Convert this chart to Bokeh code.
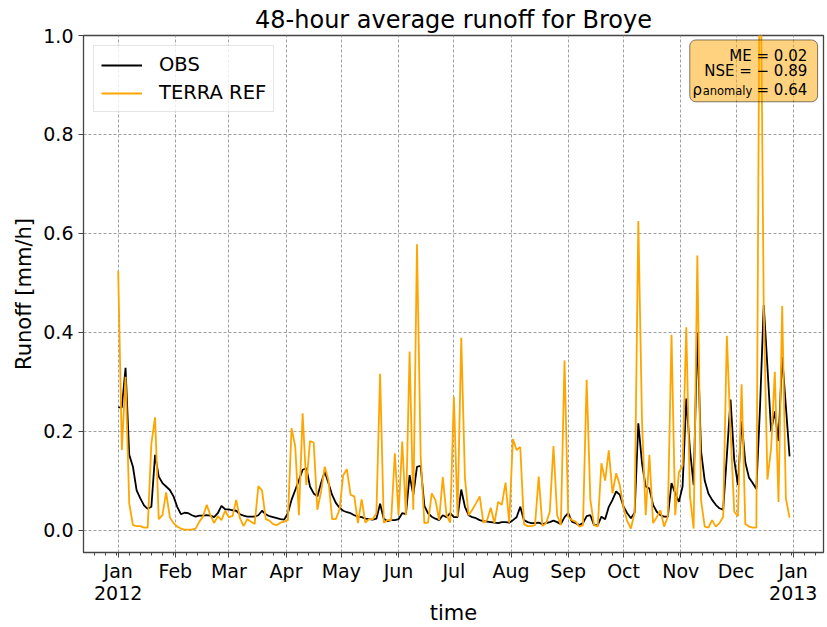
import pandas as pd
from bokeh.plotting import figure
from bokeh.models import (ColumnDataSource, FixedTicker, Range1d, Legend, LegendItem,
                          BoxAnnotation, Label, PrintfTickFormatter)
from bokeh.embed import file_html
from bokeh.resources import INLINE

# ---------------- data ----------------
start_date = "2012-01-01"
step_days = 2

obs = [0.248, 0.248, 0.328, 0.152, 0.128, 0.080, 0.064, 0.050, 0.043, 0.047,
       0.152, 0.108, 0.095, 0.088, 0.081, 0.068, 0.047, 0.032, 0.035, 0.034,
       0.030, 0.027, 0.029, 0.029, 0.030, 0.029, 0.026, 0.034, 0.049, 0.042,
       0.042, 0.040, 0.039, 0.032, 0.029, 0.027, 0.027, 0.027, 0.030, 0.039,
       0.032, 0.028, 0.026, 0.024, 0.022, 0.021, 0.034, 0.061, 0.081, 0.101,
       0.122, 0.125, 0.088, 0.074, 0.068, 0.095, 0.118, 0.095, 0.071, 0.055,
       0.045, 0.039, 0.036, 0.034, 0.030, 0.027, 0.026, 0.023, 0.022, 0.021,
       0.023, 0.053, 0.023, 0.018, 0.020, 0.020, 0.022, 0.034, 0.032, 0.111,
       0.071, 0.128, 0.130, 0.049, 0.034, 0.027, 0.023, 0.020, 0.030, 0.026,
       0.034, 0.026, 0.026, 0.082, 0.047, 0.030, 0.026, 0.024, 0.020, 0.018,
       0.017, 0.016, 0.015, 0.014, 0.016, 0.016, 0.015, 0.020, 0.026, 0.047,
       0.020, 0.016, 0.014, 0.014, 0.015, 0.012, 0.014, 0.016, 0.019, 0.016,
       0.012, 0.026, 0.034, 0.017, 0.014, 0.010, 0.014, 0.028, 0.030, 0.010,
       0.010, 0.027, 0.022, 0.047, 0.061, 0.078, 0.071, 0.047, 0.034, 0.024,
       0.035, 0.216, 0.135, 0.088, 0.084, 0.051, 0.037, 0.030, 0.027, 0.027,
       0.095, 0.074, 0.057, 0.088, 0.266, 0.162, 0.091, 0.400, 0.160, 0.100,
       0.074, 0.061, 0.051, 0.044, 0.041, 0.150, 0.264, 0.142, 0.091, 0.220,
       0.137, 0.106, 0.095, 0.083, 0.250, 0.455, 0.330, 0.200, 0.240, 0.180,
       0.350, 0.250, 0.149]

terra = [0.524, 0.162, 0.310, 0.054, 0.010, 0.008, 0.008, 0.005, 0.005, 0.175,
         0.228, 0.022, 0.030, 0.076, 0.026, 0.014, 0.007, 0.003, 0.001, 0.001,
         0.001, 0.003, 0.017, 0.027, 0.051, 0.030, 0.014, 0.028, 0.020, 0.039,
         0.026, 0.028, 0.061, 0.024, 0.008, 0.022, 0.017, 0.012, 0.089, 0.080,
         0.022, 0.019, 0.012, 0.010, 0.015, 0.017, 0.020, 0.206, 0.169, 0.030,
         0.236, 0.091, 0.180, 0.177, 0.041, 0.078, 0.128, 0.101, 0.022, 0.022,
         0.041, 0.111, 0.123, 0.071, 0.068, 0.014, 0.062, 0.015, 0.022, 0.022,
         0.034, 0.316, 0.015, 0.020, 0.020, 0.155, 0.030, 0.179, 0.030, 0.361,
         0.041, 0.578, 0.149, 0.014, 0.015, 0.074, 0.061, 0.020, 0.107, 0.030,
         0.015, 0.270, 0.027, 0.389, 0.105, 0.030, 0.041, 0.054, 0.068, 0.015,
         0.020, 0.045, 0.014, 0.057, 0.051, 0.096, 0.015, 0.184, 0.162, 0.168,
         0.012, 0.008, 0.008, 0.010, 0.108, 0.008, 0.014, 0.037, 0.170, 0.030,
         0.010, 0.343, 0.027, 0.020, 0.017, 0.007, 0.010, 0.304, 0.061, 0.010,
         0.007, 0.135, 0.100, 0.161, 0.074, 0.115, 0.090, 0.045, 0.018, 0.003,
         0.035, 0.625, 0.220, 0.030, 0.152, 0.014, 0.026, 0.040, 0.007, 0.027,
         0.395, 0.030, 0.117, 0.130, 0.410, 0.068, 0.003, 0.555, 0.060, 0.007,
         0.005, 0.020, 0.007, 0.014, 0.027, 0.393, 0.200, 0.037, 0.028, 0.295,
         0.012, 0.007, 0.005, 0.005, 1.300, 0.450, 0.102, 0.165, 0.320, 0.057,
         0.453, 0.064, 0.025]

month_starts = ["2012-01-01", "2012-02-01", "2012-03-01", "2012-04-01", "2012-05-01",
                "2012-06-01", "2012-07-01", "2012-08-01", "2012-09-01", "2012-10-01",
                "2012-11-01", "2012-12-01", "2013-01-01"]
month_labels = ["Jan\n2012", "Feb", "Mar", "Apr", "May", "Jun", "Jul", "Aug",
                "Sep", "Oct", "Nov", "Dec", "Jan\n2013"]
minor_monthdays = [1, 7, 13, 19, 25, 31]
y_ticks = [0.0, 0.2, 0.4, 0.6, 0.8, 1.0]

title_text = "48-hour average runoff for Broye"
x_label = "time"
y_label = "Runoff [mm/h]"
stat_me = "ME = 0.02"
stat_nse = "NSE = \u2212 0.89"
stat_rho_sym = "\u03c1"
stat_rho_sub = "anomaly"
stat_rho_val = "= 0.64"

# ---------------- derived ----------------
t0 = pd.Timestamp(start_date)
dates = pd.date_range(start_date, periods=len(obs), freq=f"{step_days}D")
days = ((dates - t0) / pd.Timedelta(days=1)).to_numpy()

major_days = [int((pd.Timestamp(m) - t0).days) for m in month_starts]
minor_days = []
for m in pd.date_range("2011-12-01", "2013-01-01", freq="MS"):
    for md in minor_monthdays:
        try:
            d = pd.Timestamp(year=m.year, month=m.month, day=md)
        except ValueError:
            continue
        minor_days.append(int((d - t0).days))

FONT = "DejaVu Sans"
X0, X1 = -18.8, 382.4
Y0, Y1 = -0.0454, 1.0

p = figure(width=827, height=627, output_backend="svg", toolbar_location=None,
           x_range=Range1d(X0, X1), y_range=Range1d(Y0, Y1),
           min_border_left=83, min_border_right=4, min_border_top=35,
           min_border_bottom=74)
p.background_fill_color = "white"
p.border_fill_color = "white"
p.outline_line_color = "#444444"
p.outline_line_width = 1.3

src = ColumnDataSource(dict(x=days, obs=obs, terra=terra))
r_obs = p.line("x", "obs", source=src, line_color="black", line_width=1.8)
r_terra = p.line("x", "terra", source=src, line_color="orange", line_width=1.8)

# title
p.title.text = title_text
p.title.align = "center"
p.title.text_font = FONT
p.title.text_font_size = "24px"
p.title.text_font_style = "normal"
p.title.text_color = "black"
p.title.standoff = 4

# axes
xa = p.xaxis[0]
xa.ticker = FixedTicker(ticks=major_days, minor_ticks=minor_days)
xa.major_label_overrides = {d: lab for d, lab in zip(major_days, month_labels)}
xa.axis_label = x_label
ya = p.yaxis[0]
ya.ticker = FixedTicker(ticks=y_ticks)
ya.formatter = PrintfTickFormatter(format="%.1f")
ya.axis_label = y_label
for ax in (xa, ya):
    ax.axis_line_color = "#444444"
    ax.major_tick_line_color = "#444444"
    ax.minor_tick_line_color = "#444444"
    ax.major_tick_in = 0
    ax.major_tick_out = 5
    ax.minor_tick_in = 0
    ax.minor_tick_out = 3
    ax.major_label_text_font = FONT
    ax.major_label_text_font_size = "19px"
    ax.major_label_text_color = "black"
    ax.axis_label_text_font = FONT
    ax.axis_label_text_font_size = "21px"
    ax.axis_label_text_font_style = "normal"
    ax.axis_label_text_color = "black"
ya.minor_tick_line_color = None
xa.major_label_standoff = 2
xa.major_label_text_line_height = 1.0
xa.axis_label_standoff = -6
ya.major_label_standoff = 5
ya.axis_label_standoff = 4

p.grid.grid_line_color = "#a0a0a0"
p.grid.grid_line_dash = "3 2"
p.grid.grid_line_width = 1

legend = Legend(items=[LegendItem(label="OBS", renderers=[r_obs]),
                       LegendItem(label="TERRA REF", renderers=[r_terra])],
                location="top_left", margin=10, padding=7, spacing=5,
                glyph_width=41, glyph_height=22, label_height=22,
                label_standoff=17, label_text_font=FONT,
                label_text_font_size="19.5px", label_text_color="black",
                border_line_color="#cccccc", border_line_width=1,
                background_fill_color="white", background_fill_alpha=0.8)
p.add_layout(legend)

# statistics box
box = BoxAnnotation(left=309.9, right=379.2, top=0.991, bottom=0.866,
                    fill_color="orange", fill_alpha=0.5,
                    line_color="black", line_alpha=0.5, line_width=1,
                    border_radius=6)
p.add_layout(box)

def stat_label(x, y, text, size):
    return Label(x=x, y=y, text=text, text_align="right", text_baseline="alphabetic",
                 text_font=FONT, text_font_size=size, text_color="black")

p.add_layout(stat_label(373.6, 0.9576, stat_me, "15px"))
p.add_layout(stat_label(373.6, 0.928, stat_nse, "15px"))
p.add_layout(stat_label(373.6, 0.8904, stat_rho_val, "15px"))
p.add_layout(stat_label(343.8, 0.887, stat_rho_sub, "11.5px"))
p.add_layout(stat_label(316.5, 0.8904, stat_rho_sym, "15px"))

open("out.html", "w").write(file_html(p, INLINE))
